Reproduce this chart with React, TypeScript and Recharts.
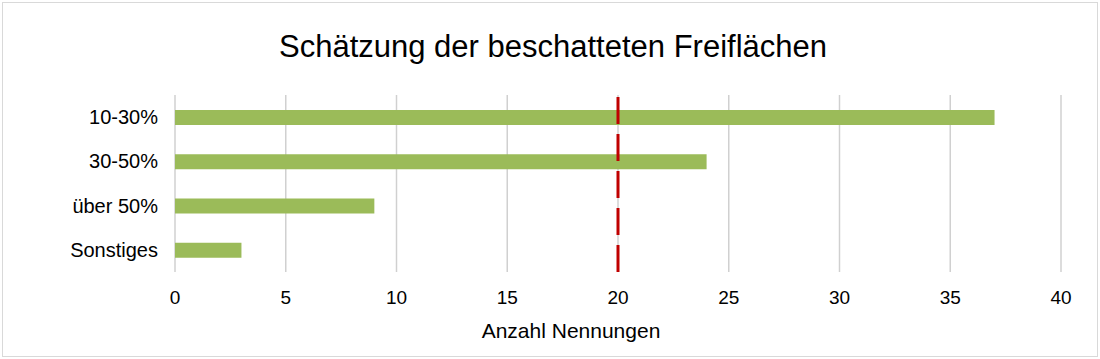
import React from "react";
import { BarChart, Bar, XAxis, YAxis, CartesianGrid, ReferenceLine } from "recharts";

const categories = ["10-30%", "30-50%", "über 50%", "Sonstiges"];
const counts = [37, 24, 9, 3];
const xTicks = [0, 5, 10, 15, 20, 25, 30, 35, 40];
const threshold = 20;

const data = categories.map((name, i) => ({ name, value: counts[i] }));

const FONT = "'Liberation Sans', Arial, sans-serif";

export default function App() {
  return (
    <div
      style={{
        position: "absolute",
        left: 0,
        top: 0,
        width: 1100,
        height: 359,
        background: "#fff",
        fontFamily: FONT,
      }}
    >
      <div
        style={{
          position: "absolute",
          left: 2,
          top: 2,
          width: 1094,
          height: 353,
          border: "1px solid #d9d9d9",
        }}
      />
      <div
        style={{
          position: "absolute",
          left: 0,
          top: 29,
          width: 1106,
          textAlign: "center",
          fontSize: 31,
          color: "#000",
        }}
      >
        Schätzung der beschatteten Freiflächen
      </div>
      <div style={{ position: "absolute", left: 0, top: 0 }}>
        <BarChart
          width={1100}
          height={359}
          data={data}
          layout="vertical"
          margin={{ top: 95, right: 39, bottom: 20, left: 0 }}
          barSize={15}
        >
          <CartesianGrid horizontal={false} stroke="#d0d0d0" strokeWidth={1.5} />
          <XAxis
            type="number"
            domain={[0, 40]}
            ticks={xTicks}
            axisLine={false}
            tickLine={false}
            tickMargin={13}
            height={67}
            tick={{ fill: "#000", fontSize: 19, fontFamily: FONT }}
            label={{
              value: "Anzahl Nennungen",
              position: "insideBottom",
              offset: 1,
              dx: -47,
              fill: "#000",
              fontSize: 21,
              fontFamily: FONT,
            }}
          />
          <YAxis
            type="category"
            dataKey="name"
            width={175}
            axisLine={false}
            tickLine={false}
            tickSize={0}
            tickMargin={17}
            tick={{ fill: "#000", fontSize: 20, fontFamily: FONT }}
          />
          <Bar dataKey="value" fill="#9BBB59" isAnimationActive={false} />
          <ReferenceLine
            x={threshold}
            stroke="#C00000"
            strokeWidth={3}
            strokeDasharray="27 10"
          />
        </BarChart>
      </div>
    </div>
  );
}
